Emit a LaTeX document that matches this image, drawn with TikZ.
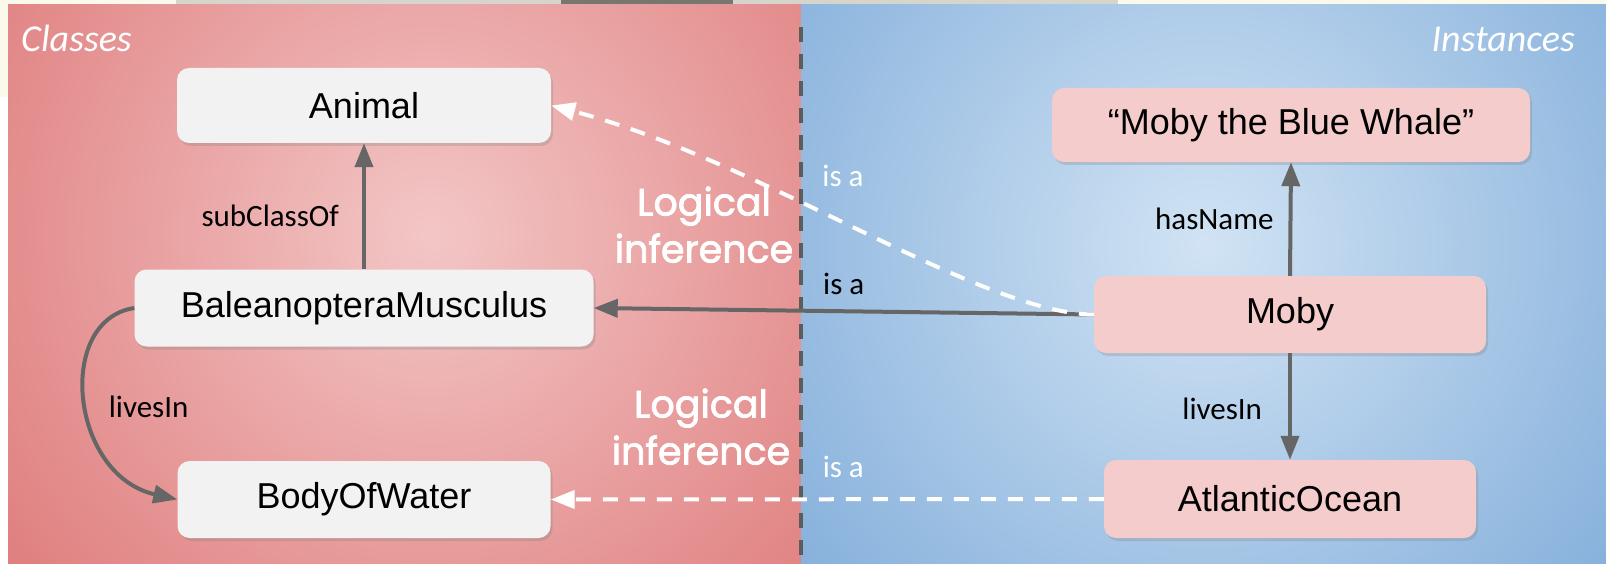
\documentclass[tikz,border=0pt]{standalone}
\usepackage{fontspec}
\setmainfont{Liberation Sans}
\newfontfamily\labelfont{Carlito}
\newfontfamily\handfont{Poppins}[FakeBold=2]
\usetikzlibrary{arrows.meta,shadows}

\definecolor{cream}{HTML}{FBF8EC}
\definecolor{sketchlight}{HTML}{D6D5CB}
\definecolor{sketchdark}{HTML}{77776F}
\definecolor{redin}{HTML}{F3C6C6}
\definecolor{redout}{HTML}{D96666}
\definecolor{bluein}{HTML}{D1E3F4}
\definecolor{blueout}{HTML}{6C9FD3}
\definecolor{boxgray}{HTML}{F2F2F2}
\definecolor{boxpink}{HTML}{F4CCCC}
\definecolor{arrowgray}{HTML}{666666}
\definecolor{sepgray}{HTML}{5C5C5C}

\tikzset{
  cls/.style={rectangle, rounded corners=12pt, fill=boxgray, inner sep=0pt,
    font=\fontsize{36}{40}\selectfont,
    drop shadow={opacity=0.28, shadow xshift=2pt, shadow yshift=-3pt}},
  inst/.style={cls, fill=boxpink},
  rel/.style={draw=arrowgray, line width=4pt, -{Triangle[length=24pt,width=18pt]}},
  infer/.style={draw=white, line width=4pt, dash pattern=on 15pt off 12pt,
    -{Triangle[length=24pt,width=18pt]}},
  lbl/.style={inner sep=0pt, font=\labelfont\fontsize{31}{34}\selectfont, text=black},
  wlbl/.style={lbl, text=white},
  hand/.style={inner sep=0pt, align=center, text=white,
    font=\handfont\fontsize{38}{47}\selectfont},
  title/.style={inner sep=0pt, text=white,
    font=\labelfont\itshape\fontsize{38}{42}\selectfont},
}

\begin{document}
\begin{tikzpicture}[x=1pt,y=-1pt]
\useasboundingbox (0,0) rectangle (1606,564);

% paper behind the panels
\fill[cream] (0,0) rectangle (1606,564);
\fill[white] (0,97) rectangle (8,564);
\fill[sketchlight] (176,0) rectangle (1118,5);
\fill[sketchdark] (561,0) rectangle (733,5);

% classes panel
\begin{scope}
  \clip (8,5) rectangle (801,564);
  \shade[inner color=redin, outer color=redout] (430,235) circle (720pt);
\end{scope}
% instances panel
\begin{scope}
  \clip (801,5) rectangle (1606,564);
  \shade[inner color=bluein, outer color=blueout] (1205,245) circle (700pt);
\end{scope}

% dividing line
\coordinate (divtop) at (801,27);
\coordinate (divbot) at (801,564);
\draw[sepgray, line width=3.5pt, dash pattern=on 15pt off 12pt] (divtop) -- (divbot);

% panel titles
\node[title, anchor=base west] (classes) at (21,52) {Classes};
\node[title, anchor=base east] (instances) at (1575,52) {Instances};

% class nodes
\node[cls, minimum width=374pt, minimum height=75pt] (animal) at (364,105.5) {Animal};
\node[cls, minimum width=459pt, minimum height=77pt] (balea) at (364,308) {BaleanopteraMusculus};
\node[cls, minimum width=373pt, minimum height=77pt] (water) at (364,499.5) {BodyOfWater};

% instance nodes
\node[inst, minimum width=478pt, minimum height=74pt] (name) at (1291,125) {“Moby the Blue Whale”};
\node[inst, minimum width=392pt, minimum height=77pt] (moby) at (1290,314.5) {Moby};
\node[inst, minimum width=372pt, minimum height=78pt] (atlantic) at (1290,499) {AtlanticOcean};

% class relations
\draw[rel] (balea.north) -- (animal.south)
  node[lbl, pos=0.42, anchor=east, xshift=-23pt] (subcl) {subClassOf};
\draw[rel] (balea.west) .. controls (55,320) and (70,475) .. (water.west)
  node[lbl, pos=0.5, anchor=west, xshift=21pt, yshift=-8pt] (livesl) {livesIn};

% instance relations
\draw[rel] (moby.north) -- (name.south)
  node[lbl, midway, anchor=east, xshift=-15pt] (hasname) {hasName};
\draw[rel] (moby.south) -- (atlantic.north)
  node[lbl, pos=0.52, anchor=east, xshift=-26pt] (livesr) {livesIn};

% typing
\draw[rel] (moby.west) -- (balea.east)
  node[lbl, pos=0.5, anchor=south, yshift=15pt] (isa2) {is a};
\draw[infer] (moby.west) .. controls (980,314) and (760,160) .. (animal.east);
\node[wlbl, anchor=base] (isa1) at (843,187) {is a};
\draw[infer] (atlantic.west) -- (water.east)
  node[wlbl, pos=0.471, anchor=south, yshift=20pt] (isa3) {is a};

% inference notes
\node[hand, anchor=south] (inf1) at (704,263) {Logical\\inference};
\node[hand, anchor=south] (inf2) at (701,465) {Logical\\inference};
\end{tikzpicture}
\end{document}
